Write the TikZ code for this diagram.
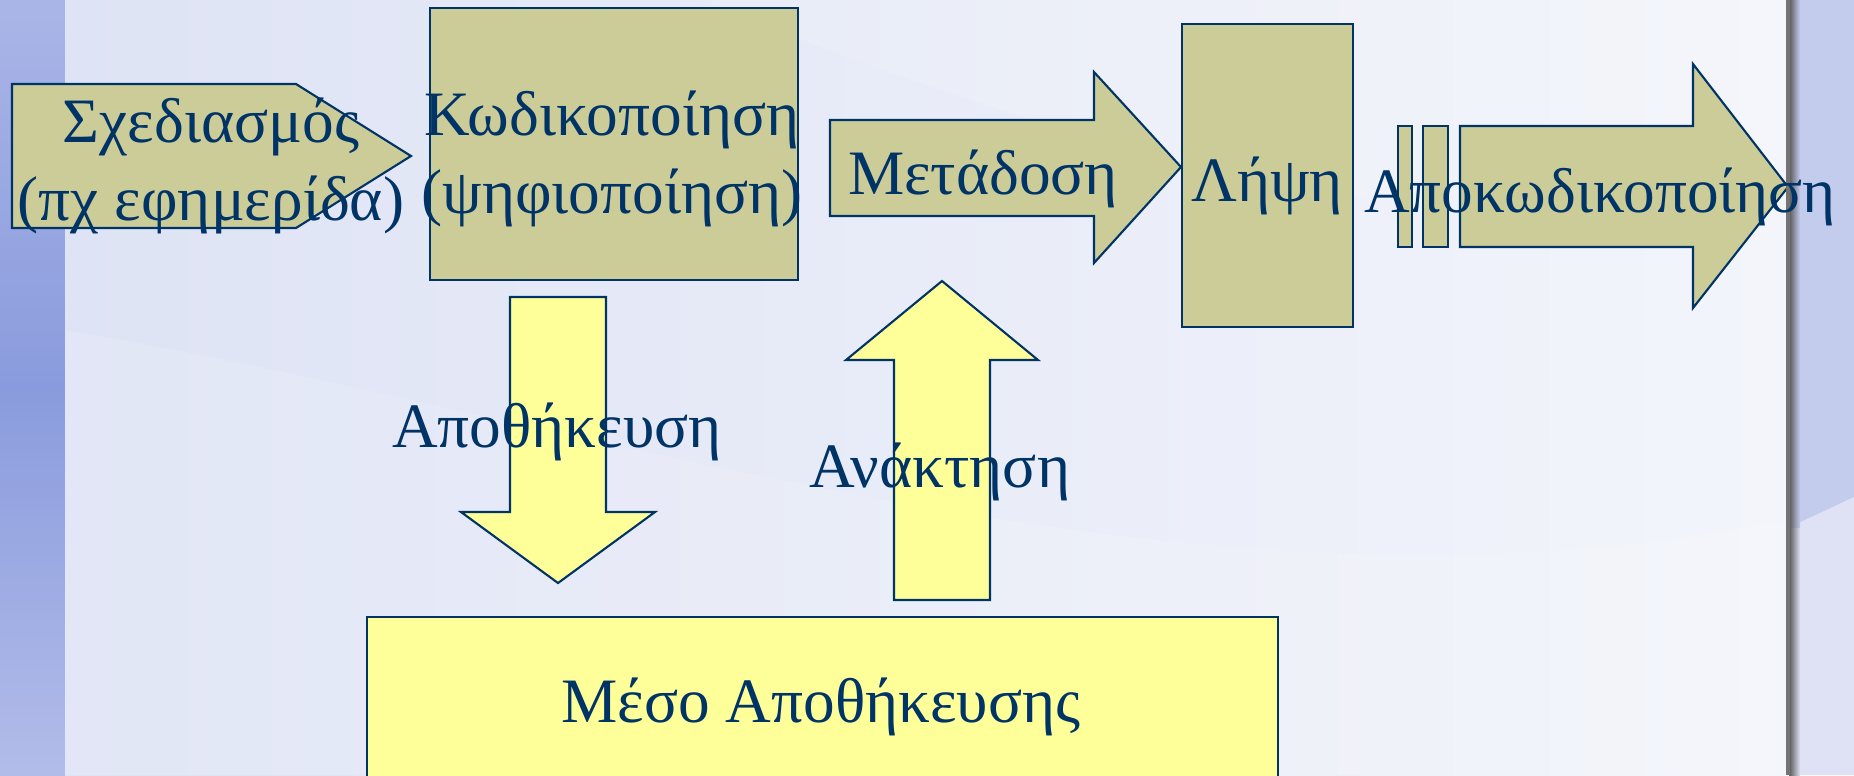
\documentclass[tikz,border=0pt]{standalone}
\usepackage{fontspec}
\setmainfont{Liberation Serif}

\definecolor{navy}{RGB}{0,51,102}
\definecolor{khaki}{RGB}{204,204,153}
\definecolor{lemon}{RGB}{255,255,153}
\definecolor{bandtop}{RGB}{170,181,231}
\definecolor{bandmid}{RGB}{138,155,221}
\definecolor{paneleft}{RGB}{222,227,245}
\definecolor{paneright}{RGB}{243,245,251}
\definecolor{rband}{RGB}{196,204,238}
\definecolor{rbandlow}{RGB}{222,226,244}

\tikzset{
  blk/.style={draw=navy, line width=0.6pt, line join=miter},
  lbl/.style={text=navy, font=\fontsize{18}{22}\selectfont, anchor=base, inner sep=0pt, align=center}
}

\begin{document}
\begin{tikzpicture}[x=0.1mm, y=-0.1mm]
    \useasboundingbox (0,0) rectangle (1854,775);

    % background
    \shade[top color=bandtop, bottom color=bandtop!90!white, middle color=bandmid] (0,0) rectangle (65,775);
    \shade[left color=paneleft, right color=paneright] (65,0) rectangle (1788,775);
    \fill[white, opacity=0.12] (65,330) .. controls (600,420) and (1200,640) .. (1788,520) -- (1788,775) -- (65,775) -- cycle;
    \fill[white, opacity=0.12] (700,0) .. controls (1000,120) and (1400,260) .. (1788,200) -- (1788,0) -- cycle;
    \fill[rband] (1788,0) rectangle (1854,775);
    \fill[rbandlow] (1788,528) -- (1854,497) -- (1854,775) -- (1788,775) -- cycle;

    % upper row
    \filldraw[blk, fill=khaki] (12,84) -- (296,84) -- (411,156) -- (296,228) -- (12,228) -- cycle;
    \filldraw[blk, fill=khaki] (430,8) rectangle (798,280);
    \filldraw[blk, fill=khaki] (830,120) -- (1094,120) -- (1094,72) -- (1181,167) -- (1094,263) -- (1094,216) -- (830,216) -- cycle;
    \filldraw[blk, fill=khaki] (1182,24) rectangle (1353,327);
    \filldraw[blk, fill=khaki] (1398,126) rectangle (1412,247);
    \filldraw[blk, fill=khaki] (1423,126) rectangle (1448,247);
    \filldraw[blk, fill=khaki] (1460,126) -- (1693,126) -- (1693,64) -- (1788,187) -- (1693,308) -- (1693,247) -- (1460,247) -- cycle;

    % store / retrieve
    \filldraw[blk, fill=lemon] (510,297) -- (606,297) -- (606,512) -- (655,512) -- (558,583) -- (461,512) -- (510,512) -- cycle;
    \filldraw[blk, fill=lemon] (894,600) -- (990,600) -- (990,360) -- (1038,360) -- (942,281) -- (846,360) -- (894,360) -- cycle;
    \filldraw[blk, fill=lemon] (367,617) rectangle (1278,785);

    % page edge shadow
    \shade[left color=black!65, right color=rband] (1789,0) rectangle (1800,528);
    \shade[left color=black!65, right color=rbandlow] (1789,528) rectangle (1800,775);
    \fill[black!55] (1786,0) rectangle (1790,775);

    % labels (base = last line)
    \node[lbl] (design) at (211,220) {Σχεδιασμός\\(πχ εφημερίδα)};
    \node[lbl] (encode) at (612,213) {Κωδικοποίηση\\(ψηφιοποίηση)};
    \node[lbl] (transmit) at (983,194) {Μετάδοση};
    \node[lbl] (receive) at (1267,201) {Λήψη};
    \node[lbl] (decode) at (1600,212) {Αποκωδικοποίηση};
    \node[lbl] (store) at (557,447) {Αποθήκευση};
    \node[lbl] (retrieve) at (940,487) {Ανάκτηση};
    \node[lbl] (medium) at (821,722) {Μέσο Αποθήκευσης};
\end{tikzpicture}
\end{document}
